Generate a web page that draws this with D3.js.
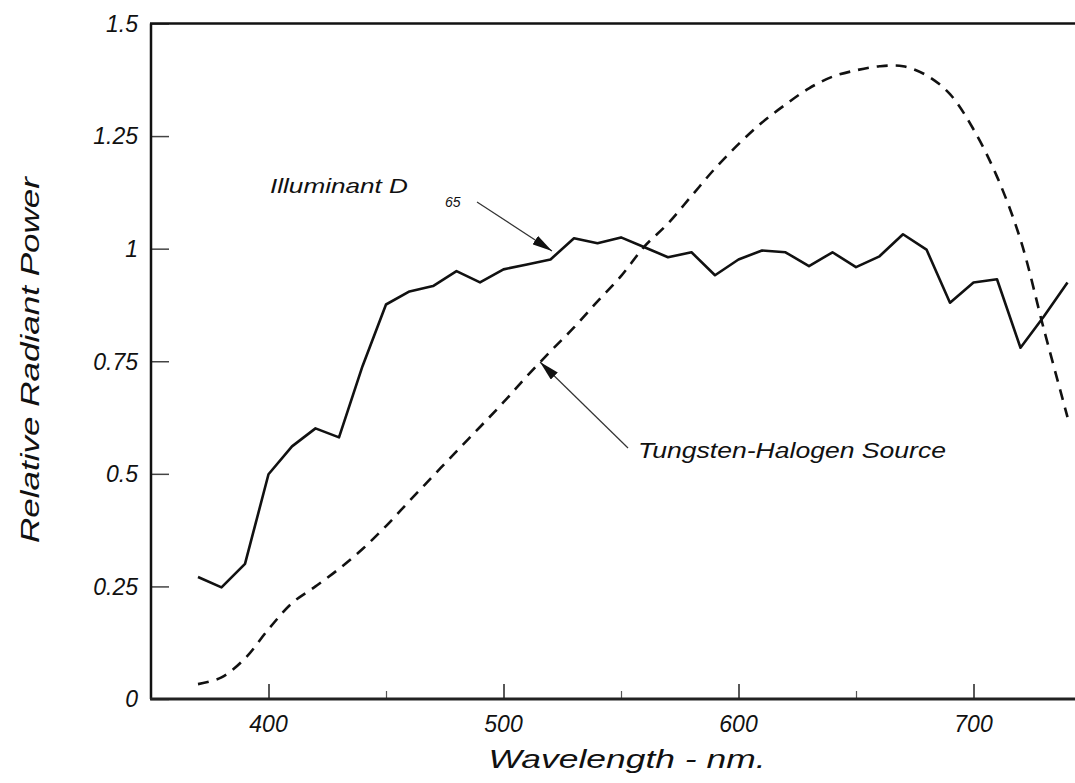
<!DOCTYPE html>
<html>
<head>
<meta charset="utf-8">
<script src="https://cdn.jsdelivr.net/npm/d3@7"></script>
<style>
  html, body { margin: 0; padding: 0; background: #fff; }
  svg { display: block; }
  text { font-family: "Liberation Sans", Arial, Helvetica, sans-serif; font-style: italic; fill: #111; }
</style>
</head>
<body>
<svg id="chart" width="1075" height="783"></svg>
<script>
// ---- data ----
const wavelengths = [370,380,390,400,410,420,430,440,450,460,470,480,490,500,510,520,530,540,550,560,570,580,590,600,610,620,630,640,650,660,670,680,690,700,710,720,730,740];
const d65 = [0.271,0.248,0.30,0.499,0.561,0.601,0.581,0.739,0.876,0.905,0.917,0.95,0.925,0.954,0.965,0.976,1.023,1.012,1.025,1.003,0.981,0.992,0.941,0.976,0.996,0.992,0.961,0.992,0.959,0.983,1.032,0.998,0.88,0.925,0.932,0.78,0.85,0.925];
const tungsten = [0.033,0.048,0.09,0.155,0.213,0.25,0.289,0.333,0.384,0.44,0.495,0.55,0.604,0.659,0.717,0.772,0.825,0.883,0.939,1.005,1.056,1.117,1.178,1.232,1.28,1.32,1.356,1.382,1.396,1.405,1.405,1.385,1.343,1.265,1.16,1.02,0.82,0.626];
const yTicks = [0, 0.25, 0.5, 0.75, 1, 1.25, 1.5];
const yTickLabels = ["0", "0.25", "0.5", "0.75", "1", "1.25", "1.5"];
const xMajorTicks = [400, 500, 600, 700];
const xMinorTicks = [450, 550, 650, 750];
const xTitle = "Wavelength - nm.";
const yTitle = "Relative Radiant Power";
const label1 = "Illuminant D";
const label1Sub = "65";
const label2 = "Tungsten-Halogen Source";

// ---- scales ----
const svg = d3.select("#chart");
const x = d3.scaleLinear().domain([350, 750]).range([151, 1091]);
const y = d3.scaleLinear().domain([0, 1.5]).range([699, 23.5]);

// defs: arrowheads
const defs = svg.append("defs");
defs.append("marker")
  .attr("id", "arrow")
  .attr("viewBox", "0 0 20 10")
  .attr("refX", 20).attr("refY", 5)
  .attr("markerWidth", 20).attr("markerHeight", 10)
  .attr("markerUnits", "userSpaceOnUse")
  .attr("orient", "auto")
  .append("path").attr("d", "M0,0 L20,5 L0,10 Z").attr("fill", "#111");

// ---- axes ----
const yAxis = d3.axisRight(y).tickValues(yTicks).tickSize(18).tickFormat("");
const gy = svg.append("g").attr("transform", `translate(${x(350)},0)`).call(yAxis);
gy.select(".domain").remove();
gy.selectAll(".tick line").attr("stroke", "#444").attr("stroke-width", 1.5);

// y tick labels
svg.append("g").selectAll("text").data(yTicks).join("text")
  .attr("x", 138).attr("y", d => y(d))
  .attr("dy", "0.36em")
  .attr("text-anchor", "end")
  .attr("font-size", 23)
  .text((d, i) => yTickLabels[i]);

const xAxisMajor = d3.axisTop(x).tickValues(xMajorTicks).tickSize(15).tickFormat("");
const gx = svg.append("g").attr("transform", `translate(0,${y(0)})`).call(xAxisMajor);
gx.select(".domain").remove();
gx.selectAll(".tick line").attr("stroke", "#222").attr("stroke-width", 1.5);

const xAxisMinor = d3.axisTop(x).tickValues(xMinorTicks).tickSize(8).tickFormat("");
const gxm = svg.append("g").attr("transform", `translate(0,${y(0)})`).call(xAxisMinor);
gxm.select(".domain").remove();
gxm.selectAll(".tick line").attr("stroke", "#555").attr("stroke-width", 1.2);

svg.append("g").selectAll("text").data(xMajorTicks).join("text")
  .attr("x", d => x(d)).attr("y", y(0) + 33)
  .attr("text-anchor", "middle")
  .attr("font-size", 23)
  .text(d => d);

// frame lines: left, bottom, top
svg.append("line").attr("x1", x(350)).attr("x2", x(350)).attr("y1", y(1.5)).attr("y2", y(0))
  .attr("stroke", "#111").attr("stroke-width", 2.5);
svg.append("line").attr("x1", x(350) - 1).attr("x2", x(750)).attr("y1", y(0)).attr("y2", y(0))
  .attr("stroke", "#222").attr("stroke-width", 3);
svg.append("line").attr("x1", x(350) - 1).attr("x2", x(750)).attr("y1", y(1.5)).attr("y2", y(1.5))
  .attr("stroke", "#111").attr("stroke-width", 2.5);

// axis titles
svg.append("text")
  .attr("x", 627).attr("y", 768)
  .attr("text-anchor", "middle")
  .attr("font-size", 26)
  .attr("textLength", 277).attr("lengthAdjust", "spacingAndGlyphs")
  .text(xTitle);

svg.append("text")
  .attr("transform", "translate(39,360) rotate(-90)")
  .attr("text-anchor", "middle")
  .attr("font-size", 26)
  .attr("textLength", 366).attr("lengthAdjust", "spacingAndGlyphs")
  .text(yTitle);

// ---- series ----
const solidLine = d3.line().x((d, i) => x(wavelengths[i])).y(d => y(d));
svg.append("path").datum(d65)
  .attr("d", solidLine)
  .attr("fill", "none").attr("stroke", "#111").attr("stroke-width", 2.6)
  .attr("stroke-linejoin", "round");

const dashLine = d3.line().x((d, i) => x(wavelengths[i])).y(d => y(d)).curve(d3.curveCatmullRom);
svg.append("path").datum(tungsten)
  .attr("d", dashLine)
  .attr("fill", "none").attr("stroke", "#111").attr("stroke-width", 2.6)
  .attr("stroke-dasharray", "11,8");

// ---- annotations ----
svg.append("text")
  .attr("x", 270).attr("y", 193)
  .attr("font-size", 21)
  .attr("textLength", 138).attr("lengthAdjust", "spacingAndGlyphs")
  .text(label1);
svg.append("text")
  .attr("x", 445).attr("y", 207)
  .attr("font-size", 14)
  .text(label1Sub);
svg.append("line")
  .attr("x1", 477).attr("y1", 202).attr("x2", 552).attr("y2", 251)
  .attr("stroke", "#333").attr("stroke-width", 1.2)
  .attr("marker-end", "url(#arrow)");

svg.append("text")
  .attr("x", 638).attr("y", 458)
  .attr("font-size", 22)
  .attr("textLength", 308).attr("lengthAdjust", "spacingAndGlyphs")
  .text(label2);
svg.append("line")
  .attr("x1", 628).attr("y1", 448).attr("x2", 540).attr("y2", 362)
  .attr("stroke", "#333").attr("stroke-width", 1.2)
  .attr("marker-end", "url(#arrow)");
</script>
</body>
</html>
